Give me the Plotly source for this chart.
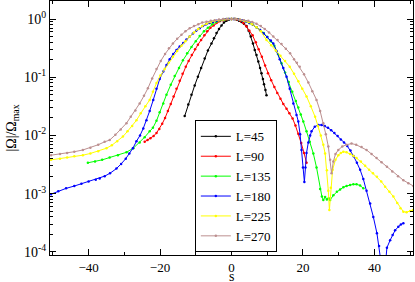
import numpy as np
import plotly.graph_objects as go

# values: s and log10(|Omega|/Omega_max)
s45 = [-13.1, -12.1, -11.2, -10.3, -9.4, -8.5, -7.5, -6.6, -5.6, -4.9, -4.2, -3.5, -2.8, -2.1, -1.4, -0.7, 0,
       0.7, 1.4, 2.1, 2.8, 3.5, 4.2, 4.8, 5.4, 6.0, 6.5, 7.0, 7.5, 8.0, 8.4, 8.8, 9.1, 9.5, 9.8]
lg45 = [-1.667, -1.47, -1.30, -1.14, -0.99, -0.84, -0.68, -0.54, -0.42, -0.33, -0.24, -0.17, -0.11, -0.06, -0.03, -0.01, 0,
        0, -0.01, -0.03, -0.05, -0.08, -0.12, -0.2, -0.3, -0.42, -0.53, -0.62, -0.73, -0.84, -0.93, -1.03, -1.12, -1.22, -1.31]

s90 = [-24.3, -23.5, -22.7, -21.8, -21.0, -20.2, -19.4, -18.6, -17.8, -17.0, -16.2, -15.4, -14.5, -13.7, -12.8, -12.0,
       -11.1, -10.2, -9.4, -8.5, -7.6, -6.8, -5.9, -5.0, -4.2, -3.3, -2.5, -1.6, -0.8, 0,
       0.8, 1.6, 2.5, 3.3, 4.2, 5.0, 5.9, 6.8, 7.6, 8.5, 9.4, 10.2, 11.1, 12.0, 12.8, 13.7, 14.5, 15.4, 16.2, 17.1,
       17.9, 18.7, 19.5, 20.3, 21.0]
lg90 = [-2.11, -2.08, -2.05, -2.01, -1.96, -1.89, -1.80, -1.70, -1.58, -1.46, -1.33, -1.20, -1.06, -0.94, -0.82, -0.72,
        -0.62, -0.52, -0.44, -0.36, -0.28, -0.21, -0.15, -0.11, -0.07, -0.04, -0.02, -0.01, 0, 0,
        0, -0.01, -0.03, -0.07, -0.13, -0.2, -0.28, -0.4, -0.52, -0.65, -0.8, -0.93, -1.05, -1.17, -1.27, -1.37, -1.46,
        -1.54, -1.62, -1.71, -1.83, -1.97, -2.13, -2.30, -2.47]

s135 = [-40.2, -38.2, -36.2, -34.1, -31.8, -29.4, -27.5, -25.7, -24.3, -22.9, -22.0, -21.0, -20.1, -19.1, -18.2, -17.0,
        -15.9, -14.7, -13.6, -12.4, -11.2, -10.0, -8.9, -7.7, -6.6, -5.4, -4.3, -3.1, -2.0, -0.9, 0,
        1, 2, 3, 4, 5, 6, 7, 8, 9, 10, 11, 12, 13, 14, 15, 16, 17, 18, 18.7, 19.4, 20.1, 21.0, 21.9, 22.9, 23.8,
        24.8, 25.3, 25.7, 26.2, 26.7, 27.2, 27.6, 28.5, 29.5, 30.4, 31.3, 32.2, 33.2, 34.1, 35.0, 36.0, 36.9]
lg135 = [-2.47, -2.45, -2.42, -2.38, -2.34, -2.29, -2.22, -2.12, -2.03, -1.93, -1.87, -1.75, -1.60, -1.45, -1.30, -1.13,
         -0.98, -0.84, -0.71, -0.59, -0.48, -0.38, -0.29, -0.21, -0.15, -0.09, -0.05, -0.02, -0.01, 0, 0,
         0, -0.01, -0.02, -0.04, -0.07, -0.1, -0.14, -0.19, -0.24, -0.31, -0.38, -0.46, -0.6, -0.76, -0.92, -1.08,
         -1.25, -1.41, -1.52, -1.64, -1.76, -1.93, -2.11, -2.31, -2.55, -2.92, -3.05, -3.11, -3.06, -3.10, -3.08,
         -3.11, -3.03, -2.97, -2.93, -2.89, -2.87, -2.85, -2.84, -2.84, -2.86, -2.91]

s180 = [-50.5, -48.5, -46.3, -44, -42, -40, -38, -36.9, -35.5, -34, -32.2, -30.9, -29.6, -28.6, -27.6, -26.6, -25.6,
        -24.7, -23.8, -22.9, -21.9, -21.0, -20.1, -19.1, -18.2, -17.3, -16.3, -15.4, -14.5, -13.5, -12.6, -11.7,
        -10.8, -9.9, -8.9, -8.0, -7.1, -6.1, -5.2, -4.2, -3.3, -2.3, -1.4, -0.5, 0.5,
        1, 2, 3, 4, 5, 6, 7, 8, 9, 10, 11, 11.7, 12.6, 13.5, 14.5, 15.4, 16.3, 17.3, 18.2, 18.7, 19.2, 19.6, 20.0,
        20.4, 20.7, 21.0, 21.5, 22.0, 22.4, 23.3, 24.3, 25.2, 26.1, 27.0, 27.9, 28.8, 29.7, 30.6, 31.5, 32.4, 33.3,
        34.2, 35.1, 36.0, 36.9, 37.8, 38.8, 39.7, 40.7, 41.3, 41.9, 42.5, 43.0, 43.5, 44.4, 45.1, 45.8, 46.7, 47.4, 48.1]
lg180 = [-3.01, -2.96, -2.91, -2.87, -2.83, -2.79, -2.76, -2.74, -2.70, -2.65, -2.57, -2.49, -2.40, -2.31, -2.22, -2.10,
         -2.0, -1.88, -1.74, -1.58, -1.39, -1.2, -1.03, -0.9, -0.79, -0.69, -0.6, -0.53, -0.47, -0.41, -0.35, -0.30,
         -0.25, -0.2, -0.16, -0.12, -0.09, -0.07, -0.05, -0.03, -0.02, -0.01, 0, 0, 0,
         0, -0.01, -0.02, -0.04, -0.07, -0.1, -0.14, -0.19, -0.25, -0.31, -0.37, -0.42, -0.55, -0.69, -0.84, -0.99,
         -1.2, -1.45, -1.65, -1.76, -1.98, -2.25, -2.55, -2.80, -2.55, -2.3, -2.12, -2.0, -1.93, -1.85, -1.82, -1.82,
         -1.84, -1.87, -1.91, -1.96, -2.01, -2.07, -2.12, -2.18, -2.26, -2.36, -2.47, -2.59, -2.75, -2.95, -3.17,
         -3.40, -3.68, -3.9, -4.2, -4.6, -4.2, -3.93, -3.80, -3.71, -3.63, -3.57, -3.53, -3.51]

s225 = [-50.5, -48, -46, -44, -41.6, -39.5, -37.3, -35, -33.5, -32, -30.4, -29.1, -27.8, -26.6, -25.4, -24.1, -22.9,
        -22, -21, -19.9, -18.7, -17.6, -16.4, -15.2, -14.0, -12.9, -11.7, -10.5, -9.3, -8.2, -7, -5.8, -4.7, -3.5,
        -2.3, -1.2, 0,
        1.2, 2.3, 3.5, 4.7, 5.8, 7, 8.2, 9.8, 11.1, 12.4, 13.7, 15, 16.3, 17.5, 18.7, 19.8, 21, 22.2, 23.4, 24.2, 25,
        25.7, 26.2, 26.7, 27.1, 27.4, 27.8, 28.3, 29.1, 29.9, 30.6, 31.3, 32.2, 33.2, 34.1, 35, 36.2, 37.4, 38.5,
        39.6, 40.7, 41.9, 43, 44.2, 45.3, 46.4, 47.3, 48.1, 49, 50, 50.8]
lg225 = [-2.42, -2.40, -2.38, -2.36, -2.34, -2.31, -2.27, -2.22, -2.17, -2.10, -2.02, -1.93, -1.84, -1.74, -1.62, -1.50,
         -1.39, -1.25, -1.10, -0.97, -0.86, -0.75, -0.65, -0.55, -0.46, -0.38, -0.30, -0.23, -0.17, -0.12, -0.08,
         -0.05, -0.03, -0.02, -0.01, 0, 0,
         0, -0.01, -0.03, -0.05, -0.09, -0.14, -0.21, -0.36, -0.45, -0.54, -0.63, -0.72, -0.82, -0.94, -1.07, -1.2,
         -1.33, -1.5, -1.68, -1.84, -2.0, -2.16, -2.31, -2.6, -2.95, -3.28, -2.9, -2.59, -2.42, -2.34, -2.30, -2.28,
         -2.29, -2.32, -2.35, -2.39, -2.45, -2.52, -2.59, -2.65, -2.71, -2.79, -2.88, -2.97, -3.05, -3.16, -3.25,
         -3.31, -3.32, -3.30, -3.28]

s270 = [-50.5, -48, -46, -44, -41.6, -39.5, -37.3, -35.5, -34.1, -32.5, -31, -29.4, -28.2, -26.9, -25.7, -24.5, -23.4,
        -22.2, -21, -19.8, -18.6, -17.5, -16.4, -15.2, -14, -12.9, -11.7, -10.5, -9.3, -8.2, -7, -5.8, -4.7, -3.5,
        -2.3, -1.2, 0,
        1.2, 2.3, 3.5, 4.7, 5.8, 7, 8.2, 9.3, 10.5, 11.7, 12.9, 14, 15.2, 16.4, 17.5, 18.3, 19.1, 20.3, 21.5, 22.6,
        23.8, 24.8, 25.7, 26.4, 27.1, 27.6, 28.0, 28.5, 29.1, 29.9, 31, 32.2, 33.6, 34.9, 36.4, 37.8, 39.2, 40.6,
        42, 43.5, 45, 46.6, 48.1, 49.5, 50.9]
lg270 = [-2.34, -2.32, -2.30, -2.28, -2.25, -2.21, -2.16, -2.11, -2.08, -1.99, -1.9, -1.79, -1.68, -1.57, -1.45, -1.32,
         -1.19, -1.02, -0.86, -0.72, -0.6, -0.5, -0.42, -0.34, -0.27, -0.21, -0.16, -0.12, -0.09, -0.06, -0.046,
         -0.03, -0.02, -0.01, 0, 0, 0,
         0, -0.01, -0.02, -0.03, -0.05, -0.08, -0.12, -0.17, -0.23, -0.30, -0.36, -0.43, -0.51, -0.59, -0.69, -0.75,
         -0.82, -0.95, -1.09, -1.24, -1.39, -1.58, -1.79, -1.98, -2.19, -2.42, -2.65, -2.45, -2.32, -2.25, -2.19,
         -2.16, -2.14, -2.16, -2.2, -2.25, -2.32, -2.39, -2.46, -2.54, -2.62, -2.7, -2.77, -2.82, -2.87]

names = ["L=45", "L=90", "L=135", "L=180", "L=225", "L=270"]
colors = ["#000000", "#ff0000", "#00ff00", "#0000ff", "#ffff00", "#bc8f8f"]
series = [(s45, lg45), (s90, lg90), (s135, lg135), (s180, lg180), (s225, lg225), (s270, lg270)]

font = "Liberation Serif"

fig = go.Figure()
for name, col, (s, lg) in zip(names, colors, series):
    fig.add_trace(go.Scatter(
        x=s, y=10 ** np.array(lg), mode="lines+markers", name=name,
        line=dict(color=col, width=1),
        marker=dict(color=col, size=2.5, symbol="circle"),
    ))

ytick_vals = [1e-4, 1e-3, 1e-2, 1e-1, 1]
ytick_text = ["10<sup>-4</sup>", "10<sup>-3</sup>", "10<sup>-2</sup>", "10<sup>-1</sup>", "10<sup>0</sup>"]
yminor = [m * 10.0 ** e for e in range(-5, 1) for m in range(2, 10)]

fig.update_layout(
    width=415, height=282,
    margin=dict(l=50, r=2, t=1, b=27),
    paper_bgcolor="white", plot_bgcolor="white",
    font=dict(family=font, size=14, color="black"),
    showlegend=True,
    legend=dict(x=0.399, y=0.53, xanchor="left", yanchor="top",
                bgcolor="white", bordercolor="black", borderwidth=1,
                font=dict(family=font, size=13), tracegroupgap=0, itemwidth=30),
    xaxis=dict(range=[-50.8, 50.8], tickvals=[-40, -20, 0, 20, 40],
               tickfont=dict(family=font, size=13),
               ticks="inside", ticklen=6, tickcolor="black",
               minor=dict(tickvals=[-50, -30, -10, 10, 30, 50], ticks="inside", ticklen=3, tickcolor="black"),
               showline=True, linecolor="black", linewidth=1, mirror="allticks",
               showgrid=False, zeroline=False),
    yaxis=dict(type="log", range=[-4.055, 0.31], tickvals=ytick_vals, ticktext=ytick_text,
               tickfont=dict(family=font, size=14),
               ticks="inside", ticklen=6, tickcolor="black",
               minor=dict(tickvals=yminor, ticks="inside", ticklen=3, tickcolor="black"),
               showline=True, linecolor="black", linewidth=1, mirror="allticks",
               showgrid=False, zeroline=False,
               title=dict(text="|Ω|/Ω<sub>max</sub>", standoff=4, font=dict(family=font, size=14))),
)
fig.add_annotation(text="s", x=0, xref="x", y=0, yref="paper", yanchor="middle", yshift=-21,
                   borderpad=0, showarrow=False, font=dict(family=font, size=14))

# the page body has a default margin; drop it so the figure sits at the window corner
fig.write_html("out.html", config={"displayModeBar": False},
               post_script="document.body.style.margin = '0';")
